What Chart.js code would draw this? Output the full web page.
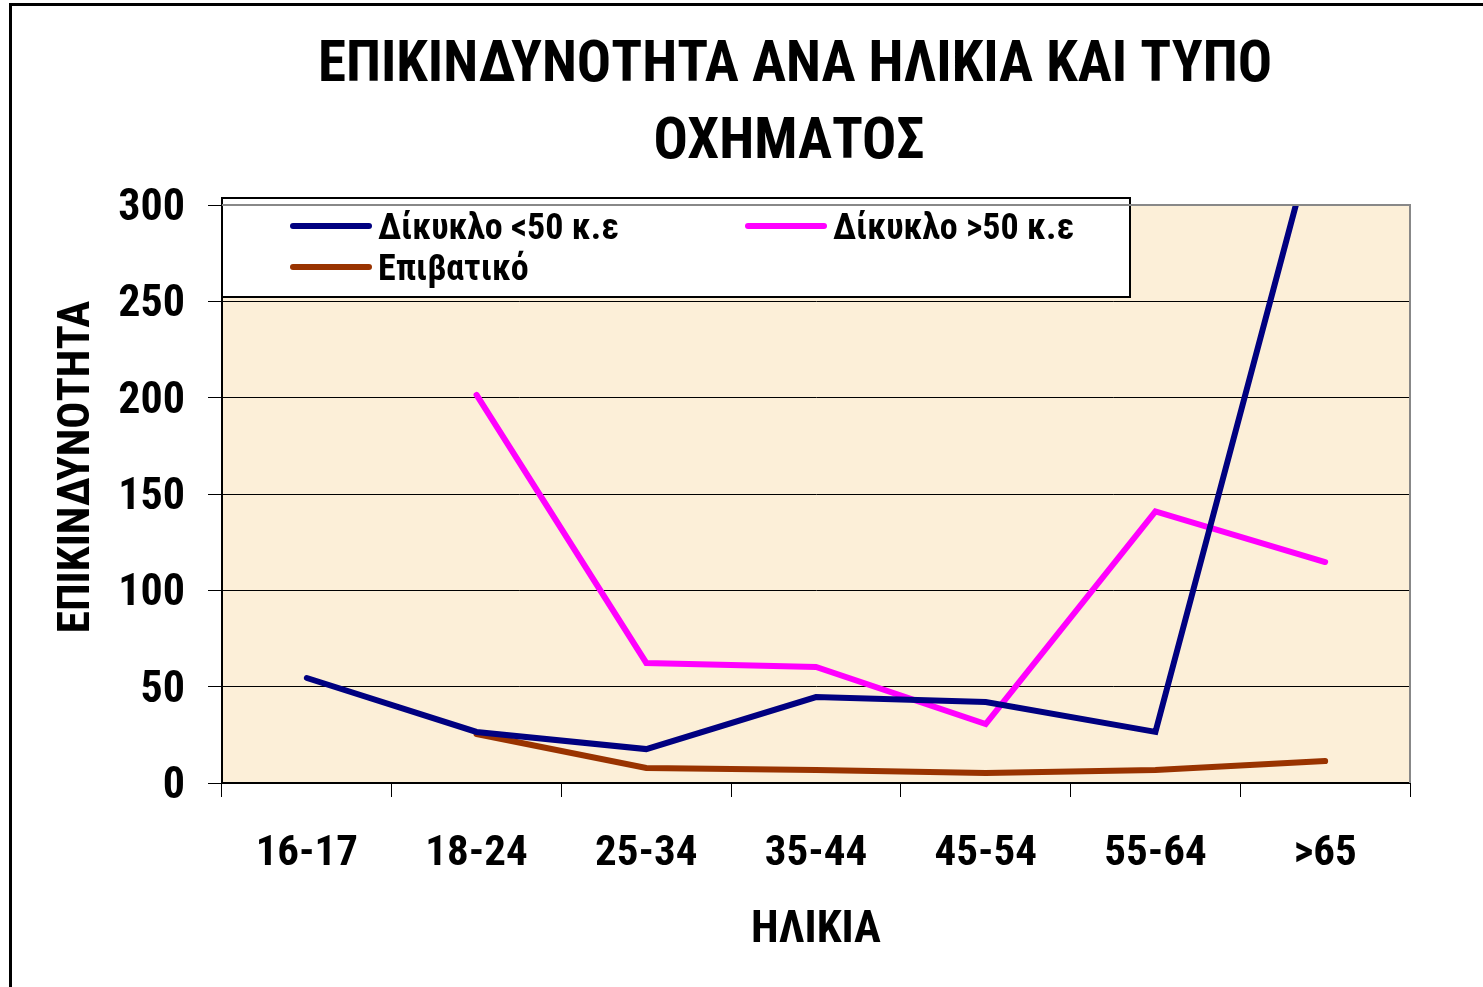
<!DOCTYPE html>
<html>
<head>
<meta charset="utf-8">
<script src="https://cdn.jsdelivr.net/npm/chart.js@4/dist/chart.umd.min.js"></script>
<style>
  html, body { margin: 0; padding: 0; background: #fff; }
  canvas { display: block; }
</style>
</head>
<body>
<canvas id="chart" width="1483" height="987"></canvas>
<script>
const family = "Roboto, 'Open Sans', sans-serif";
// the stretch keyword rides along in the weight slot of Chart.js' font string
const boldNarrow = 'bold condensed';

const titleLines = ['ΕΠΙΚΙΝΔΥΝΟΤΗΤΑ ΑΝΑ ΗΛΙΚΙΑ ΚΑΙ ΤΥΠΟ', 'ΟΧΗΜΑΤΟΣ'];
const ageGroups = ['16-17', '18-24', '25-34', '35-44', '45-54', '55-64', '>65'];
const mopedUnder50 = [54.5, 26.5, 17.6, 44.6, 42, 26.5, 357];
const motoOver50 = [null, 201.4, 62.3, 60.2, 30.6, 141, 114.7];
const passengerCar = [null, 25.4, 7.8, 6.7, 5.2, 6.7, 11.4];
const seriesLabels = ['Δίκυκλο <50 κ.ε', 'Δίκυκλο >50 κ.ε', 'Επιβατικό'];
const seriesColors = ['#000080', '#FF00FF', '#993300'];
const yTicks = [0, 50, 100, 150, 200, 250, 300];

// frame, plot background, plot border, titles
const frame = {
    id: 'frame',
    beforeDraw(chart) {
        const ctx = chart.ctx;
        const a = chart.chartArea;
        ctx.save();
        ctx.fillStyle = '#FCEFD8';
        ctx.fillRect(a.left, a.top, a.right - a.left, a.bottom - a.top);
        ctx.strokeStyle = '#000';
        ctx.lineWidth = 3;
        ctx.strokeRect(10.5, 4.5, 1500, 1000);
        ctx.restore();
    },
    afterDraw(chart) {
        const ctx = chart.ctx;
        const a = chart.chartArea;
        ctx.save();
        ctx.strokeStyle = '#888';
        ctx.lineWidth = 2;
        ctx.beginPath();
        ctx.moveTo(a.left, a.top);
        ctx.lineTo(a.right, a.top);
        ctx.lineTo(a.right, a.bottom);
        ctx.stroke();

        ctx.fillStyle = '#000';
        ctx.textAlign = 'center';
        ctx.textBaseline = 'middle';
        ctx.font = boldNarrow + ' 57px ' + family;
        ctx.fillText(titleLines[0], 795, 67);
        ctx.fillText(titleLines[1], 789, 144);

        ctx.translate(78, 467);
        ctx.rotate(-Math.PI / 2);
        ctx.font = boldNarrow + ' 45px ' + family;
        ctx.fillText('ΕΠΙΚΙΝΔΥΝΟΤΗΤΑ', 0, 0);
        ctx.restore();
    }
};

// legend in a white box over the top of the plot
const boxLegend = {
    id: 'boxLegend',
    afterDatasetsDraw(chart) {
        const ctx = chart.ctx;
        const a = chart.chartArea;
        const x0 = a.left, y0 = a.top - 7;
        ctx.save();
        ctx.fillStyle = '#fff';
        ctx.fillRect(x0, y0, 908, 99);
        ctx.strokeStyle = '#000';
        ctx.lineWidth = 2;
        ctx.strokeRect(x0, y0, 908, 99);
        const slots = [[71, 28], [526, 28], [71, 69]];
        ctx.font = boldNarrow + ' 36px ' + family;
        ctx.textBaseline = 'middle';
        chart.data.datasets.forEach((ds, i) => {
            const [sx, sy] = slots[i];
            ctx.strokeStyle = ds.borderColor;
            ctx.lineWidth = 6;
            ctx.lineCap = 'round';
            ctx.beginPath();
            ctx.moveTo(x0 + sx, y0 + sy);
            ctx.lineTo(x0 + sx + 76, y0 + sy);
            ctx.stroke();
            ctx.fillStyle = '#000';
            ctx.fillText(ds.label, x0 + sx + 85, y0 + sy + 4);
        });
        ctx.restore();
    }
};

const series = [mopedUnder50, motoOver50, passengerCar];

new Chart(document.getElementById('chart'), {
    type: 'line',
    data: {
        labels: ageGroups,
        datasets: series.map((values, i) => ({
            label: seriesLabels[i],
            data: values,
            borderColor: seriesColors[i],
            backgroundColor: seriesColors[i],
            borderWidth: 6,
            borderCapStyle: 'round',
            pointRadius: 0,
            tension: 0,
            fill: false
        }))
    },
    options: {
        responsive: false,
        animation: false,
        devicePixelRatio: 1,
        layout: { padding: { left: 0, right: 73, top: 205, bottom: 0 } },
        plugins: {
            legend: { display: false },
            tooltip: { enabled: false },
            title: { display: false }
        },
        scales: {
            x: {
                offset: true,
                grid: { drawOnChartArea: false, color: '#000', tickLength: 14, offset: true },
                border: { color: '#000', width: 2 },
                ticks: { color: '#000', font: { family: family, size: 43, weight: boldNarrow }, padding: 31, maxRotation: 0 },
                title: {
                    display: true,
                    text: 'ΗΛΙΚΙΑ',
                    color: '#000',
                    font: { family: family, size: 45, weight: boldNarrow },
                    padding: { top: 0, bottom: 29 }
                },
                afterFit(scale) { scale.height = 204; }
            },
            y: {
                min: 0,
                max: 300,
                afterBuildTicks(scale) { scale.ticks = yTicks.map(v => ({ value: v })); },
                grid: { color: '#000', lineWidth: 1, tickLength: 14 },
                border: { color: '#000', width: 2 },
                ticks: { color: '#000', font: { family: family, size: 44, weight: boldNarrow }, padding: 23, labelOffset: 4 },
                afterFit(scale) { scale.width = 222; }
            }
        }
    },
    plugins: [frame, boxLegend]
});
</script>
</body>
</html>
